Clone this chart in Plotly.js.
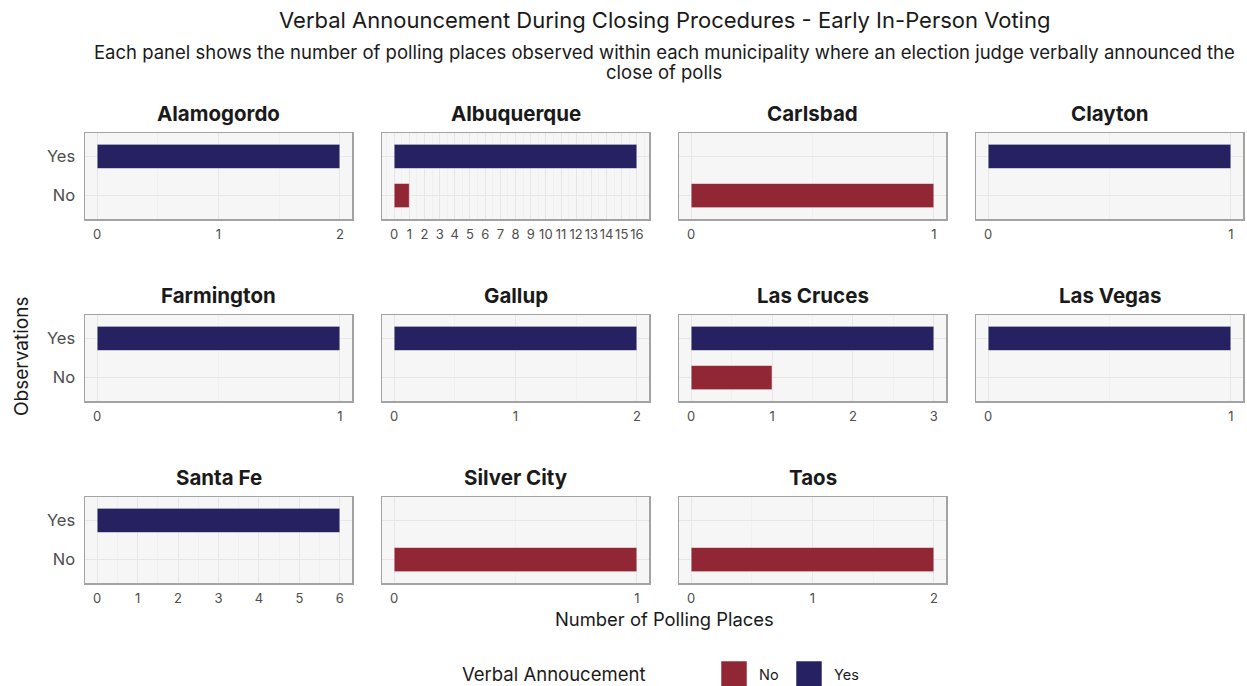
<!DOCTYPE html>
<html>
<head>
<meta charset="utf-8">
<script src="https://cdn.plot.ly/plotly-3.0.1.min.js"></script>
<style>html,body{margin:0;padding:0;background:#fff;}#chart{width:1247px;height:686px;}</style>
</head>
<body>
<div id="chart"></div>
<script>
// ---- data ----
const municipalities = ["Alamogordo","Albuquerque","Carlsbad","Clayton","Farmington","Gallup","Las Cruces","Las Vegas","Santa Fe","Silver City","Taos"];
const yesCounts = [2,16,0,1,1,2,3,1,6,0,0];
const noCounts  = [0,1,1,0,0,0,1,0,0,1,2];
const categories = ["No","Yes"];
const legendTitle = "Verbal Annoucement";
const titleText = "Verbal Announcement During Closing Procedures - Early In-Person Voting";
const subtitleLines = ["Each panel shows the number of polling places observed within each municipality where an election judge verbally announced the", "close of polls"];
const xTitle = "Number of Polling Places";
const yTitle = "Observations";

// ---- style / layout ----
const W = 1247, H = 686;
const colLeft = [85, 382, 679, 976];
const panelW = 267;
const rowTop = [133, 315, 497];
const panelH = 86;
const colors = {No: "#912634", Yes: "#262262"};
const FONT = "Inter, 'Noto Sans', sans-serif";

const px = x => x / W;
const py = y => 1 - y / H;

const traces = [];
const layout = {
  width: W, height: H,
  margin: {l: 0, r: 0, t: 0, b: 0},
  paper_bgcolor: "#ffffff",
  plot_bgcolor: "#F6F6F6",
  barmode: "overlay",
  showlegend: false,
  font: {family: FONT, color: "#1a1a1a"},
  annotations: [],
  shapes: []
};

municipalities.forEach((name, i) => {
  const r = Math.floor(i / 4), c = i % 4;
  const ax = i === 0 ? "" : String(i + 1);
  const maxV = Math.max(yesCounts[i], noCounts[i]);
  const vals = {No: noCounts[i], Yes: yesCounts[i]};
  categories.forEach(cat => {
    if (vals[cat] > 0) {
      traces.push({
        type: "bar", orientation: "h",
        x: [vals[cat]], y: [cat], name: cat,
        xaxis: "x" + ax, yaxis: "y" + ax,
        width: 0.62,
        marker: {color: colors[cat], line: {color: "rgba(255,255,255,0.55)", width: 1}},
        hoverinfo: "x+y"
      });
    }
  });
  layout["xaxis" + ax] = {
    domain: [px(colLeft[c]), px(colLeft[c] + panelW)],
    anchor: "y" + ax,
    range: [-0.05 * maxV, 1.05 * maxV],
    tick0: 0, dtick: 1, tickangle: 0,
    ticks: "", ticklabelstandoff: 3,
    tickfont: {size: 13, color: "#4d4d4d", family: FONT},
    showgrid: true, gridcolor: "#E6E6E6", gridwidth: 1,
    minor: {tick0: 0, dtick: 0.5, showgrid: true, gridcolor: "#ECECEC", gridwidth: 0.6},
    zeroline: false,
    showline: true, mirror: true, linecolor: "#A3A3A3", linewidth: 1.5,
    fixedrange: true
  };
  layout["yaxis" + ax] = {
    domain: [py(rowTop[r] + panelH), py(rowTop[r])],
    anchor: "x" + ax,
    type: "category",
    categoryorder: "array", categoryarray: categories,
    range: [-0.6, 1.6],
    showticklabels: c === 0,
    ticks: "", ticklabelstandoff: 5,
    tickfont: {size: 16.5, color: "#4d4d4d", family: FONT},
    showgrid: true, gridcolor: "#E6E6E6", gridwidth: 1,
    zeroline: false,
    showline: true, mirror: true, linecolor: "#A3A3A3", linewidth: 1.5,
    fixedrange: true
  };
  layout.annotations.push({
    text: "<b>" + name + "</b>", xref: "paper", yref: "paper",
    x: px(colLeft[c] + panelW / 2), y: py(rowTop[r] - 20),
    xanchor: "center", yanchor: "middle", showarrow: false,
    font: {size: 20.5, color: "#1a1a1a", family: FONT}
  });
});

// titles
layout.annotations.push({
  text: titleText, xref: "paper", yref: "paper",
  x: px(664), y: py(20), xanchor: "center", yanchor: "middle", showarrow: false,
  font: {size: 22, color: "#1a1a1a", family: FONT}
});
subtitleLines.forEach((line, k) => {
  layout.annotations.push({
    text: line, xref: "paper", yref: "paper",
    x: px(664), y: py(52 + 20 * k), xanchor: "center", yanchor: "middle", showarrow: false,
    font: {size: 18.5, color: "#1a1a1a", family: FONT}
  });
});
layout.annotations.push({
  text: xTitle, xref: "paper", yref: "paper",
  x: px(664), y: py(619), xanchor: "center", yanchor: "middle", showarrow: false,
  font: {size: 18.4, color: "#1a1a1a", family: FONT}
});
layout.annotations.push({
  text: yTitle, xref: "paper", yref: "paper",
  x: px(21), y: py(357), xanchor: "center", yanchor: "middle", showarrow: false,
  textangle: -90,
  font: {size: 19, color: "#1a1a1a", family: FONT}
});

// legend (drawn as shapes + text)
layout.annotations.push({
  text: legendTitle, xref: "paper", yref: "paper",
  x: px(553), y: py(674), xanchor: "center", yanchor: "middle", showarrow: false,
  font: {size: 18.5, color: "#1a1a1a", family: FONT}
});
const keyX = {No: 721, Yes: 796};
categories.forEach(cat => {
  layout.shapes.push({
    type: "rect", xref: "paper", yref: "paper",
    x0: px(keyX[cat]), x1: px(keyX[cat] + 26), y0: py(688), y1: py(661),
    fillcolor: colors[cat], line: {color: "rgba(255,255,255,0.55)", width: 1}
  });
  layout.annotations.push({
    text: cat, xref: "paper", yref: "paper",
    x: px(keyX[cat] + 36), y: py(674), xanchor: "left", yanchor: "middle", showarrow: false,
    font: {size: 14.5, color: "#1a1a1a", family: FONT}
  });
});

Plotly.newPlot("chart", traces, layout, {displayModeBar: false, staticPlot: true});
</script>
</body>
</html>
